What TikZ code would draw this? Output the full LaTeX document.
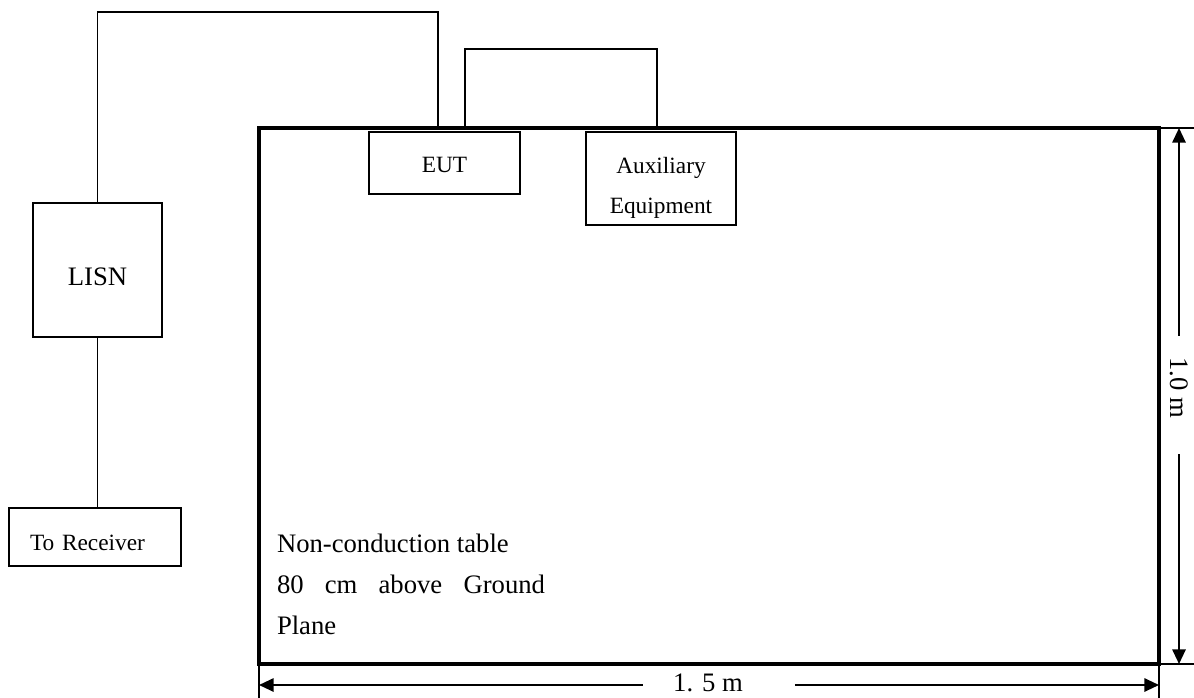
\documentclass[tikz,border=0pt]{standalone}
\usepackage{fontspec}
\setmainfont{Liberation Serif}
\usetikzlibrary{arrows.meta}
\begin{document}
\begin{tikzpicture}[x=0.75pt, y=-0.75pt, outer sep=0pt, >={Triangle[length=11pt,width=10pt]},
        bigtext/.style={font=\fontsize{20}{30.75}\selectfont},
        smalltext/.style={font=\fontsize{17.5}{30}\selectfont},
        unit/.style={draw, line width=1.3pt, inner sep=0pt, text depth=0pt},
        wire/.style={line width=1.2pt}, dimline/.style={line width=1.5pt, ->}, extline/.style={line width=0.8pt}]
      \useasboundingbox (0,0) rectangle (1194,698);
      \node[draw, line width=2.6pt, minimum width=675pt, minimum height=402pt] (table) at (709,396) {};
      \node[unit, smalltext, minimum width=113.25pt, minimum height=46.5pt, text height=15pt] (eut) at (444.5,163) {EUT};
      \node[unit, minimum width=112.5pt, minimum height=69.75pt] (aux) at (661,178.5) {};
      \node[smalltext, align=center, inner sep=0pt] (auxlabel) at (661,187.5) {Auxiliary\\Equipment};
      \node[unit, bigtext, minimum width=96.75pt, minimum height=100.5pt, text height=24pt] (lisn) at (97.5,270) {LISN};
      \node[unit, smalltext, minimum width=129pt, minimum height=43.5pt, text width=97.5pt, inner xsep=15.75pt, text height=19.5pt] (rx) at (95,537) {To Receiver};
      \node[bigtext, anchor=north west, align=left, inner sep=0pt] (note) at (277,534)
        {Non-conduction table\\\makebox[201pt][s]{80 cm above Ground}\\Plane};
      % cables
      \draw[wire] ([xshift=-4.9pt]eut.north |- table.north) -- ++(0,-116) -| (lisn.north);
      \draw[wire] ([xshift=15.4pt]eut.north |- table.north) -- ++(0,-79) -| ([xshift=-3pt]aux.north |- table.north);
      \draw[wire] (lisn.south) -- (lisn.south |- rx.north);
      % dimensions
      \node[bigtext, rotate=-90, inner sep=0pt] (vlabel) at (1179,388) {1.0 m};
      \node[bigtext, inner sep=0pt, text height=10pt, text depth=0pt] (hlabel) at (708,685) {1. 5 m};
      \draw[dimline] ([yshift=16.5pt]vlabel.west) -- (vlabel.west |- table.north);
      \draw[dimline] ([yshift=-27pt]vlabel.east) -- (vlabel.east |- table.south);
      \draw[dimline] ([xshift=-23pt]hlabel.west) -- (hlabel.west -| table.west);
      \draw[dimline] ([xshift=39pt]hlabel.east) -- (hlabel.east -| table.east);
      \draw[extline] (table.south west) -- ++(0,40);
      \draw[extline] (table.south east) -- ++(0,40);
      \draw[extline] (table.north east) -- ++(40,0);
      \draw[extline] (table.south east) -- ++(40,0);
    \end{tikzpicture}
\end{document}
